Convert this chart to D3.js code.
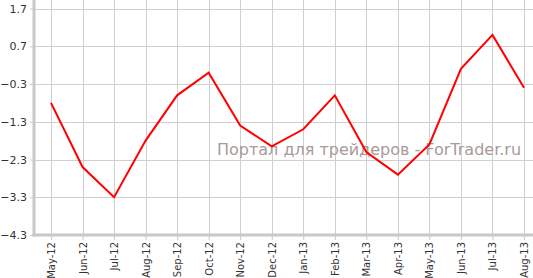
<!DOCTYPE html>
<html>
<head>
<meta charset="utf-8">
<script src="https://cdn.jsdelivr.net/npm/d3@7"></script>
<style>
  body { margin: 0; background: #fff; }
  svg { display: block; }
</style>
</head>
<body>
<svg id="chart"></svg>
<script>
// Monthly series
const months = ['May-12', 'Jun-12', 'Jul-12', 'Aug-12', 'Sep-12', 'Oct-12', 'Nov-12', 'Dec-12',
                'Jan-13', 'Feb-13', 'Mar-13', 'Apr-13', 'May-13', 'Jun-13', 'Jul-13', 'Aug-13'];
const values = [-0.8, -2.5, -3.3, -1.8, -0.6, 0.0, -1.4, -1.95,
                -1.5, -0.6, -2.1, -2.7, -1.9, 0.1, 1.0, -0.4];
const yTicks = [1.7, 0.7, -0.3, -1.3, -2.3, -3.3, -4.3];
const watermark = 'Портал для трейдеров - ForTrader.ru';

const width = 533, height = 278;
const margin = { top: 8.5, right: 9, bottom: 43, left: 34 };

const svg = d3.select('#chart')
    .attr('width', width)
    .attr('height', height);

// Scales
const x = d3.scalePoint()
    .domain(months)
    .range([51, width - margin.right]);

const y = d3.scaleLinear()
    .domain([-4.3, 1.7])
    .range([height - margin.bottom, margin.top]);

// Grid
const grid = svg.append('g').attr('stroke', '#cfcfcf').attr('stroke-width', 1);
grid.selectAll('line.h')
    .data(yTicks)
    .enter()
    .append('line')
    .attr('x1', margin.left)
    .attr('x2', width)
    .attr('y1', d => Math.round(y(d)) + 0.5)
    .attr('y2', d => Math.round(y(d)) + 0.5);
grid.selectAll('line.v')
    .data(months)
    .enter()
    .append('line')
    .attr('x1', d => Math.round(x(d)) + 0.5)
    .attr('x2', d => Math.round(x(d)) + 0.5)
    .attr('y1', 0)
    .attr('y2', y(-4.3));

// Y axis
const yAxis = svg.append('g')
    .attr('transform', `translate(${margin.left},0)`)
    .call(d3.axisLeft(y).tickValues(yTicks).tickSize(4).tickPadding(3).tickFormat(d3.format('.1f')));
yAxis.select('.domain').remove();
yAxis.selectAll('.tick line').attr('stroke', '#c8c8c8').attr('stroke-width', 1);
yAxis.selectAll('.tick text')
    .attr('fill', '#333')
    .attr('font-family', 'Verdana, "DejaVu Sans", sans-serif')
    .attr('font-size', '11px');

// X axis
const xAxis = svg.append('g')
    .attr('transform', `translate(0,${y(-4.3)})`)
    .call(d3.axisBottom(x).tickSize(5).tickPadding(4));
xAxis.select('.domain').remove();
xAxis.selectAll('.tick line').attr('stroke', '#c8c8c8').attr('stroke-width', 1);
xAxis.selectAll('.tick text')
    .attr('fill', '#333')
    .attr('font-family', 'Verdana, "DejaVu Sans", sans-serif')
    .attr('font-size', '10px')
    .attr('text-anchor', 'end')
    .attr('dy', '0.35em')
    .attr('transform', 'translate(0,3) rotate(-90)')
    .attr('x', -4)
    .attr('y', 0);

// Axis lines (thick gray)
svg.append('line')
    .attr('x1', margin.left).attr('x2', margin.left)
    .attr('y1', 0).attr('y2', y(-4.3) + 1.5)
    .attr('stroke', '#c8c8c8').attr('stroke-width', 3);
svg.append('line')
    .attr('x1', margin.left - 1.5).attr('x2', width)
    .attr('y1', y(-4.3)).attr('y2', y(-4.3))
    .attr('stroke', '#c8c8c8').attr('stroke-width', 3);

// Watermark
svg.append('text')
    .attr('x', 217)
    .attr('y', 155)
    .attr('fill', '#a89a98')
    .attr('font-family', '"DejaVu Sans", Verdana, sans-serif')
    .attr('font-size', '16px')
    .text(watermark);

// Series line
const line = d3.line()
    .x((d, i) => x(months[i]))
    .y(d => y(d));

svg.append('path')
    .datum(values)
    .attr('fill', 'none')
    .attr('stroke', '#ff0000')
    .attr('stroke-width', 2)
    .attr('stroke-linejoin', 'miter')
    .attr('d', line);
</script>
</body>
</html>
